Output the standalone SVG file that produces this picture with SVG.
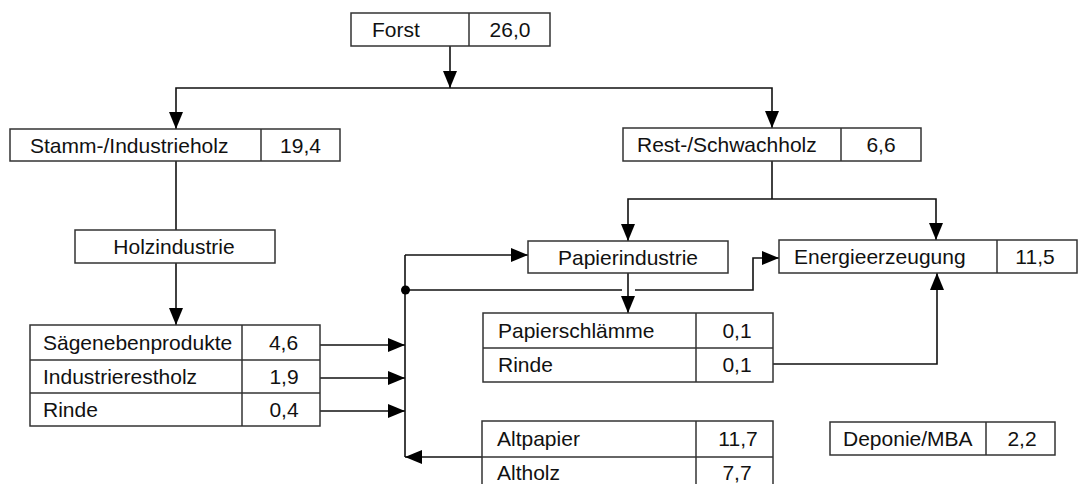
<svg xmlns="http://www.w3.org/2000/svg" width="1082" height="484" viewBox="0 0 1082 484">
  <defs>
    <marker id="arrow" markerUnits="userSpaceOnUse" markerWidth="17" markerHeight="14" refX="17" refY="7" orient="auto">
      <path d="M0,0 L17,7 L0,14 z" fill="#000"/>
    </marker>
    <style>
      .box { fill: #fff; stroke: #333; stroke-width: 1.5; }
      .div { stroke: #333; stroke-width: 1.5; fill: none; }
      .lbl { font-family: "Liberation Sans", Arial, sans-serif; font-size: 21px; fill: #111; }
      .num { font-family: "Liberation Sans", Arial, sans-serif; font-size: 21px; fill: #111; text-anchor: middle; }
      .ctr { text-anchor: middle; }
      .wire { fill: none; stroke: #111; stroke-width: 1.6; }
      .arr { marker-end: url(#arrow); }
    </style>
  </defs>
  <rect width="1082" height="484" fill="#fff"/>

  <!-- connectors -->
  <g id="connectors">
    <path class="wire arr" d="M450,46 V88"/>
    <path class="wire arr" d="M450,88 H176 V129"/>
    <path class="wire arr" d="M450,88 H772 V128"/>
    <path class="wire" d="M176,161 V230"/>
    <path class="wire arr" d="M176,263 V325"/>
    <path class="wire arr" d="M320,345 H405"/>
    <path class="wire arr" d="M320,378 H405"/>
    <path class="wire arr" d="M320,411 H405"/>
    <path class="wire" d="M405,457 V255"/>
    <path class="wire arr" d="M405,255 H528"/>
    <path class="wire" d="M405,290 H622"/>
    <path class="wire arr" d="M635,290 H753 V258 H779"/>
    <circle cx="405.5" cy="290" r="4.5" fill="#000"/>
    <path class="wire arr" d="M482,457 H405"/>
    <path class="wire" d="M772,161 V199"/>
    <path class="wire arr" d="M772,199 H628 V241"/>
    <path class="wire arr" d="M772,199 H936 V240"/>
    <path class="wire arr" d="M628,273 V313"/>
    <path class="wire arr" d="M773,364 H937 V273"/>
  </g>

  <g id="forst">
    <rect class="box" x="351" y="13" width="199" height="33"/>
    <line class="div" x1="469" y1="13" x2="469" y2="46"/>
    <text class="lbl" x="372" y="37">Forst</text>
    <text class="num" x="510" y="37">26,0</text>
  </g>

  <g id="stammholz">
    <rect class="box" x="10" y="129" width="330" height="32"/>
    <line class="div" x1="261" y1="129" x2="261" y2="161"/>
    <text class="lbl" x="30" y="152.5">Stamm-/Industrieholz</text>
    <text class="num" x="300.5" y="152.5">19,4</text>
  </g>

  <g id="restholz">
    <rect class="box" x="623" y="128" width="298" height="33"/>
    <line class="div" x1="841" y1="128" x2="841" y2="161"/>
    <text class="lbl" x="637" y="152">Rest-/Schwachholz</text>
    <text class="num" x="881" y="152">6,6</text>
  </g>

  <g id="holzindustrie">
    <rect class="box" x="75" y="230" width="200" height="33"/>
    <text class="lbl ctr" x="174" y="254">Holzindustrie</text>
  </g>

  <g id="papierindustrie">
    <rect class="box" x="528" y="241" width="200" height="32"/>
    <text class="lbl ctr" x="628" y="264.5">Papierindustrie</text>
  </g>

  <g id="energie">
    <rect class="box" x="779" y="240" width="298" height="33"/>
    <line class="div" x1="997" y1="240" x2="997" y2="273"/>
    <text class="lbl" x="794" y="264">Energieerzeugung</text>
    <text class="num" x="1035" y="264">11,5</text>
  </g>

  <g id="saegeprodukte">
    <rect class="box" x="30" y="325" width="290" height="101"/>
    <line class="div" x1="30" y1="360" x2="320" y2="360"/>
    <line class="div" x1="30" y1="393" x2="320" y2="393"/>
    <line class="div" x1="242" y1="325" x2="242" y2="426"/>
    <text class="lbl" x="43" y="350">Sägenebenprodukte</text>
    <text class="num" x="283.5" y="350">4,6</text>
    <text class="lbl" x="43" y="384">Industrierestholz</text>
    <text class="num" x="284" y="384">1,9</text>
    <text class="lbl" x="43" y="417">Rinde</text>
    <text class="num" x="284" y="417">0,4</text>
  </g>

  <g id="papierreste">
    <rect class="box" x="483" y="313" width="290" height="69"/>
    <line class="div" x1="483" y1="348" x2="773" y2="348"/>
    <line class="div" x1="696" y1="313" x2="696" y2="382"/>
    <text class="lbl" x="498" y="338">Papierschlämme</text>
    <text class="num" x="737" y="338">0,1</text>
    <text class="lbl" x="498" y="372">Rinde</text>
    <text class="num" x="737" y="372">0,1</text>
  </g>

  <g id="altstoffe">
    <rect class="box" x="482" y="421" width="291" height="72"/>
    <line class="div" x1="482" y1="457" x2="773" y2="457"/>
    <line class="div" x1="696" y1="421" x2="696" y2="493"/>
    <text class="lbl" x="497" y="446">Altpapier</text>
    <text class="num" x="738" y="446">11,7</text>
    <text class="lbl" x="497" y="480">Altholz</text>
    <text class="num" x="737" y="480">7,7</text>
  </g>

  <g id="deponie">
    <rect class="box" x="830" y="422" width="225" height="33"/>
    <line class="div" x1="986" y1="422" x2="986" y2="455"/>
    <text class="lbl" x="843" y="446">Deponie/MBA</text>
    <text class="num" x="1022" y="446">2,2</text>
  </g>
</svg>
